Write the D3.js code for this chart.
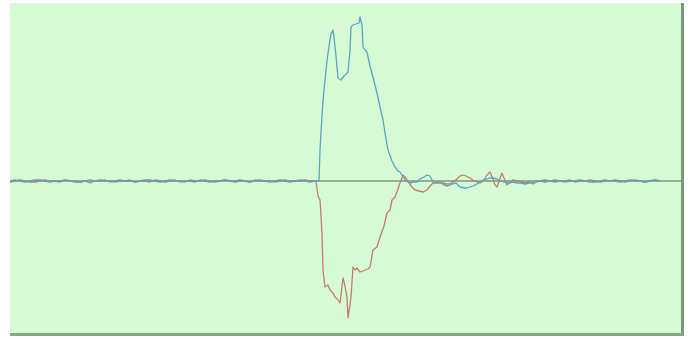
<!DOCTYPE html>
<html>
<head>
<meta charset="utf-8">
<script src="https://cdn.jsdelivr.net/npm/d3@7"></script>
<style>
  html, body { margin: 0; padding: 0; background: #ffffff; }
  svg { display: block; }
</style>
</head>
<body>
<svg id="chart" width="688" height="339"></svg>
<script>
// Sample times (ms) and signal amplitudes for the two channels.
const blueTime = [
  0,5,10,15,20,25,30,35,40,45,50,55,60,65,70,75,80,85,90,95,100,105,110,115,120,125,130,135,140,145,
  150,155,160,165,170,175,180,185,190,195,200,205,210,215,220,225,230,235,240,245,250,255,260,265,270,275,280,285,290,295,300,305,
  309,310,312,313,315,317,319,321,323,324,326,328,331,334,338,340,341,343,346,349,350,352,353,355,357,360,364,367,370,373,376,378,
  382,385,388,390,393,396,400,404,407,410,414,417,420,423,426,430,434,438,442,446,450,454,457,460,463,467,470,473,477,480,483,487,
  490,495,499,503,507,511,515,519,523,527,
  530,535,540,545,550,555,560,565,570,575,580,585,590,595,600,605,610,615,620,625,630,635,640,645,650
];
const blueValues = [
  0,1,0,-1,0,1,1,0,-1,0,0,1,0,-1,-1,0,1,0,0,1,-1,0,1,0,0,-1,0,1,1,0,
  -1,0,1,0,0,-1,1,0,0,1,0,-1,0,1,0,0,1,0,-1,0,1,0,0,-1,0,1,0,0,1,0,-1,0,
  0,31,65,80,101,120,135,147,151,144,125,103,101,105,109,130,154,156,157,158,164,156,134,131,129,115,100,88,74,61,42,31,
  20,14,10,9,4,0,-2,-1,-1,2,4,6,5,-1,-1,-1,-4,-5,-3,-2,-6,-7,-7,-6,-5,-3,-1,1,2,3,3,2,
  0,-1,-2,-1,-2,-2,-3,-2,-1,0,
  0,-1,0,1,0,-1,0,0,1,0,-1,-1,0,1,0,0,-1,0,1,0,0,-1,0,1,0
];

const redTime = [
  0,5,10,15,20,25,30,35,40,45,50,55,60,65,70,75,80,85,90,95,100,105,110,115,120,125,130,135,140,145,
  150,155,160,165,170,175,180,185,190,195,200,205,210,215,220,225,230,235,240,245,250,255,260,265,270,275,280,285,290,295,300,
  306,308,310,312,313,315,318,320,323,325,328,330,333,335,337,338,340,341,343,345,347,350,353,355,358,360,363,367,370,374,377,380,
  382,385,388,390,393,396,399,402,405,409,413,417,420,423,427,430,433,437,440,443,447,450,453,456,460,464,467,470,474,477,480,483,
  485,487,489,492,494,497,500,503,507,511,515,519,523,527,
  530,535,540,545,550,555,560,565,570,575,580,585,590,595,600,605,610,615,620,625,630,635,640,645,650
];
const redValues = [
  -1,0,1,0,-1,-1,0,1,0,0,-1,1,0,0,-1,0,-2,0,1,0,0,-1,0,0,1,-1,0,0,-1,1,
  0,-1,0,1,-1,0,0,-1,1,0,-1,0,0,1,0,-1,0,0,-1,1,0,0,-1,0,1,0,-1,0,0,1,0,
  0,-15,-19,-52,-89,-106,-104,-109,-112,-116,-119,-122,-97,-105,-116,-137,-124,-116,-86,-89,-87,-91,-90,-89,-88,-86,-69,-66,-56,-45,-32,-29,
  -19,-16,-8,-2,6,3,-2,-6,-9,-10,-11,-9,-5,-2,-2,-2,-2,-3,-3,-1,2,5,6,5,3,0,-1,-2,1,6,9,2,
  -4,-6,0,8,3,-4,-1,1,0,-1,-2,-1,-3,-1,
  0,1,0,-1,0,0,1,-1,0,0,1,0,-1,0,0,1,0,-1,0,1,0,-1,0,1,0
];

const timeDomain = [0, 671];
const ampDomain = [-152, 178];

const svg = d3.select("#chart");
const plot = { left: 10, top: 3, right: 681, bottom: 333 };

// Panel background
svg.append("rect")
  .attr("x", plot.left).attr("y", plot.top)
  .attr("width", plot.right - plot.left).attr("height", plot.bottom - plot.top)
  .attr("fill", "#d6fbd4");

// Sunken frame: darker edges along right and bottom
svg.append("rect")
  .attr("x", plot.right).attr("y", plot.top)
  .attr("width", 3).attr("height", plot.bottom - plot.top + 3)
  .attr("fill", "#7a987a");
svg.append("rect")
  .attr("x", plot.left).attr("y", plot.bottom)
  .attr("width", plot.right - plot.left + 3).attr("height", 3)
  .attr("fill", "#86a386");

const x = d3.scaleLinear().domain(timeDomain).range([plot.left, plot.right]);
const y = d3.scaleLinear().domain(ampDomain).range([plot.bottom, plot.top]);

const line = d3.line()
  .x(d => x(d[0]))
  .y(d => y(d[1]))
  .curve(d3.curveLinear);

const g = svg.append("g");

// Baseline at zero amplitude
g.append("line")
  .attr("x1", plot.left).attr("x2", plot.right)
  .attr("y1", y(0)).attr("y2", y(0))
  .attr("stroke", "#5c5e54").attr("stroke-width", 1.2);

g.append("path")
  .datum(redTime.map((t, i) => [t, redValues[i]]))
  .attr("d", line)
  .attr("fill", "none")
  .attr("stroke", "#c47c6c")
  .attr("stroke-width", 1.3)
  .attr("stroke-linejoin", "round");

g.append("path")
  .datum(blueTime.map((t, i) => [t, blueValues[i]]))
  .attr("d", line)
  .attr("fill", "none")
  .attr("stroke", "#5aa4c4")
  .attr("stroke-width", 1.3)
  .attr("stroke-linejoin", "round");
</script>
</body>
</html>
